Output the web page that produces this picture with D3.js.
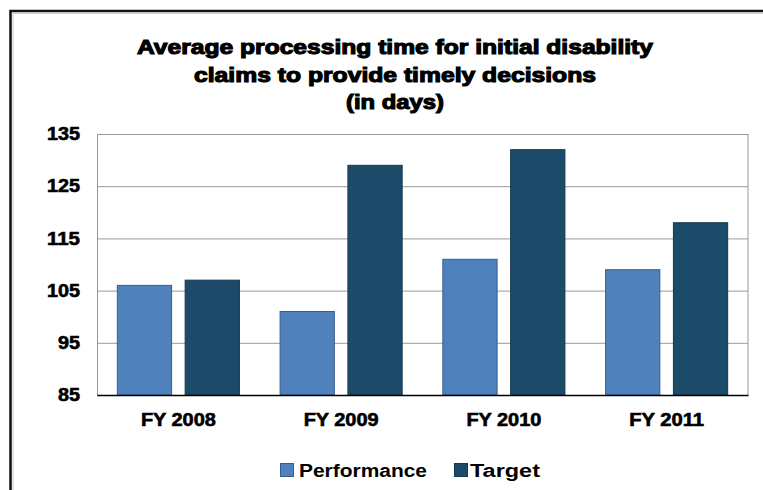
<!DOCTYPE html>
<html>
<head>
<meta charset="utf-8">
<script src="https://cdn.jsdelivr.net/npm/d3@7"></script>
<style>
  body { margin: 0; background: #fff; }
  svg text { font-family: "Liberation Sans", Arial, sans-serif; font-weight: bold; fill: #000; }
</style>
</head>
<body>
<div id="chart"></div>
<script>
// Chart data
const years = ["FY 2008", "FY 2009", "FY 2010", "FY 2011"];
const seriesNames = ["Performance", "Target"];
const performance = [106, 101, 111, 109];
const target = [107, 129, 132, 118];
const yTicks = [85, 95, 105, 115, 125, 135];
const titleLines = [
    "Average processing time for initial disability",
    "claims to provide timely decisions",
    "(in days)"
];

const width = 763;
const height = 490;
const margin = { top: 134, right: 15, bottom: 95, left: 97 };
const colors = ["#4f81bd", "#1b4b69"];
const strokes = ["#385d8a", "#14384f"];

const svg = d3.select("#chart")
    .append("svg")
    .attr("width", width)
    .attr("height", height);

// Outer frame (top and left edges visible)
svg.append("path")
    .attr("d", `M13,${height} V13.5 H${width}`)
    .attr("fill", "none")
    .attr("stroke", "#ccc")
    .attr("stroke-width", 1);
svg.append("path")
    .attr("d", `M10.5,${height} V11 H${width}`)
    .attr("fill", "none")
    .attr("stroke", "#111")
    .attr("stroke-width", 2.5);

// Scales
const x0 = d3.scaleBand()
    .domain(years)
    .range([margin.left, width - margin.right])
    .paddingInner(0.25)
    .paddingOuter(0.125);

const x1 = d3.scaleBand()
    .domain(seriesNames)
    .range([0, x0.bandwidth()])
    .paddingInner(0.2);

const y = d3.scaleLinear()
    .domain([85, 135])
    .range([height - margin.bottom, margin.top]);

// Gridlines + y labels
const yAxis = d3.axisLeft(y)
    .tickValues(yTicks)
    .tickSize(-(width - margin.left - margin.right))
    .tickPadding(17);
const yG = svg.append("g")
    .attr("transform", `translate(${margin.left},0)`)
    .call(yAxis);
yG.select(".domain").attr("stroke", "#999");
yG.selectAll(".tick line").attr("stroke", "#999");
yG.selectAll(".tick text")
    .attr("font-size", 18)
    .attr("font-family", null)
    .attr("stroke", "#000")
    .attr("stroke-width", 0.6)
    .attr("textLength", d => String(d).length * 11)
    .attr("lengthAdjust", "spacingAndGlyphs");

// Right border of plot area
svg.append("line")
    .attr("x1", width - margin.right).attr("x2", width - margin.right)
    .attr("y1", margin.top).attr("y2", height - margin.bottom)
    .attr("stroke", "#999");

// Bars
const rows = years.map((yr, i) => ({ year: yr, values: [performance[i], target[i]] }));
const groups = svg.selectAll(".group")
    .data(rows)
    .enter().append("g")
    .attr("transform", d => `translate(${x0(d.year)},0)`);

groups.selectAll("rect")
    .data(d => d.values.map((v, k) => ({ key: seriesNames[k], value: v, k: k })))
    .enter().append("rect")
    .attr("x", d => x1(d.key))
    .attr("y", d => y(d.value))
    .attr("width", x1.bandwidth())
    .attr("height", d => y(85) - y(d.value))
    .attr("fill", d => colors[d.k])
    .attr("stroke", d => strokes[d.k])
    .attr("stroke-width", 1);

// X axis
const xAxis = d3.axisBottom(x0).tickSize(0).tickPadding(18);
const xG = svg.append("g")
    .attr("transform", `translate(0,${height - margin.bottom})`)
    .call(xAxis);
xG.select(".domain").attr("stroke", "#000").attr("stroke-width", 1.5);
xG.selectAll(".tick text")
    .attr("font-size", 18)
    .attr("font-family", null)
    .attr("stroke", "#000")
    .attr("stroke-width", 0.6)
    .attr("textLength", 75)
    .attr("lengthAdjust", "spacingAndGlyphs");

// Title
const titleWidths = [516, 402, 98];
svg.append("text")
    .attr("text-anchor", "middle")
    .attr("font-size", 20)
    .attr("stroke", "#000")
    .attr("stroke-width", 1.1)
    .selectAll("tspan")
    .data(titleLines)
    .enter().append("tspan")
    .attr("x", 395)
    .attr("y", (d, i) => 54 + i * 27.5)
    .attr("textLength", (d, i) => titleWidths[i])
    .attr("lengthAdjust", "spacingAndGlyphs")
    .text(d => d);

// Legend
const legendX = [280, 454];
const legendW = [128, 70];
const legend = svg.selectAll(".legend")
    .data(seriesNames)
    .enter().append("g")
    .attr("transform", (d, i) => `translate(${legendX[i]},463)`);
legend.append("rect")
    .attr("x", 0.5).attr("y", 0.5)
    .attr("width", 13).attr("height", 13)
    .attr("fill", (d, i) => colors[i])
    .attr("stroke", (d, i) => strokes[i]);
legend.append("text")
    .attr("x", (d, i) => i === 0 ? 19 : 16)
    .attr("y", 14)
    .attr("font-size", 18)
    .attr("font-family", "'DejaVu Sans', Verdana, sans-serif")
    .attr("textLength", (d, i) => legendW[i])
    .attr("lengthAdjust", "spacingAndGlyphs")
    .text(d => d);
</script>
</body>
</html>
